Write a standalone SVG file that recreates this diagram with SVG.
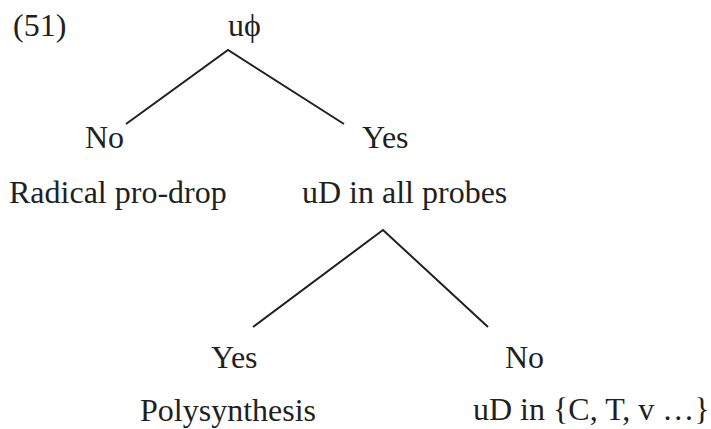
<svg xmlns="http://www.w3.org/2000/svg" width="711" height="429" viewBox="0 0 711 429">
<style>
text{font-family:"Liberation Serif","Times New Roman",serif;font-size:32px;fill:#231f20}
.e{stroke:#231f20;stroke-width:2;fill:none}
</style>
<rect width="711" height="429" fill="#fff"/>
<text x="13" y="36">(51)</text>
<g id="connectors">
<path class="e" d="M126,124 L228,50 L344,124"/>
<path class="e" d="M253,327 L383,230 L488,327"/>
</g>
<g id="root"><text x="228" y="36">uϕ</text></g>
<g id="no1"><text x="85" y="148">No</text><text x="9" y="203">Radical pro-drop</text></g>
<g id="yes1"><text x="362" y="148">Yes</text><text x="302" y="203">uD in all probes</text></g>
<g id="yes2"><text x="211" y="368">Yes</text><text x="140" y="421">Polysynthesis</text></g>
<g id="no2"><text x="505" y="368">No</text><text x="473" y="420">uD in {C, T, v …}</text></g>
</svg>
